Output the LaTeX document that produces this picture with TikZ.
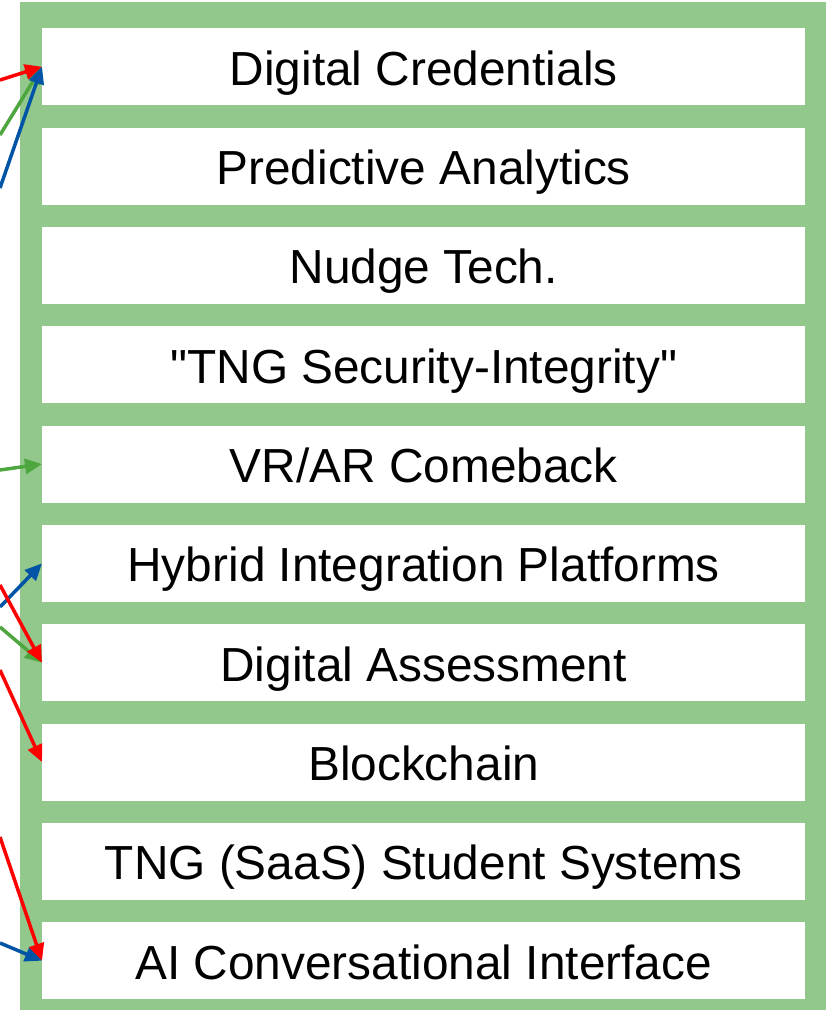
\documentclass[tikz,border=0pt]{standalone}
\usepackage{fontspec}
\setmainfont{Liberation Sans}[Ligatures=TeXOff]
\usetikzlibrary{arrows.meta}
\definecolor{panelgreen}{RGB}{147,200,141}
\definecolor{argreen}{RGB}{78,166,62}
\definecolor{arblue}{RGB}{0,84,166}
\definecolor{arred}{RGB}{255,0,0}
\begin{document}
\begin{tikzpicture}[x=1pt,y=-1pt,
  item/.style={fill=white,draw=none,minimum width=763pt,minimum height=77pt,inner sep=0pt,
    text height=37pt,text depth=0pt,
    anchor=north west,font=\fontsize{47.8}{57}\selectfont},
  conn/.style={line width=3.5pt,-{Triangle[length=17pt,width=15pt]}}]
\useasboundingbox (0,0) rectangle (833,1011);
\fill[panelgreen] (20,2) rectangle (826,1010);
\foreach \t [count=\i from 0] in {Digital Credentials,Predictive Analytics,Nudge Tech.,
  "TNG Security-Integrity",VR/AR Comeback,Hybrid Integration Platforms,Digital Assessment,
  Blockchain,TNG (SaaS) Student Systems,AI Conversational Interface}{
  \pgfmathsetmacro{\yy}{28+99.33*\i}
  \pgfmathtruncatemacro{\k}{\i+1}
  \node[item] (b\k) at (42,\yy) {\t};
}
\coordinate (s1r) at (0,80);
\coordinate (s1g) at (0,135);
\coordinate (s1b) at (0,188);
\coordinate (s5g) at (0,470);
\coordinate (s6b) at (0,607);
\coordinate (s7r) at (0,585);
\coordinate (s7g) at (0,627);
\coordinate (s8r) at (0,670);
\coordinate (s10r) at (0,837);
\coordinate (s10b) at (0,943);
\draw[conn,argreen] (s1g) -- (b1.west);
\draw[conn,arred] (s1r) -- (b1.west);
\draw[conn,arblue] (s1b) -- (b1.west);
\draw[conn,argreen] (s5g) -- (b5.west);
\draw[conn,arblue] (s6b) -- (b6.west);
\draw[conn,argreen] (s7g) -- (b7.west);
\draw[conn,arred] (s7r) -- (b7.west);
\draw[conn,arred] (s8r) -- (b8.west);
\draw[conn,arblue] (s10b) -- (b10.west);
\draw[conn,arred] (s10r) -- (b10.west);
\end{tikzpicture}
\end{document}
